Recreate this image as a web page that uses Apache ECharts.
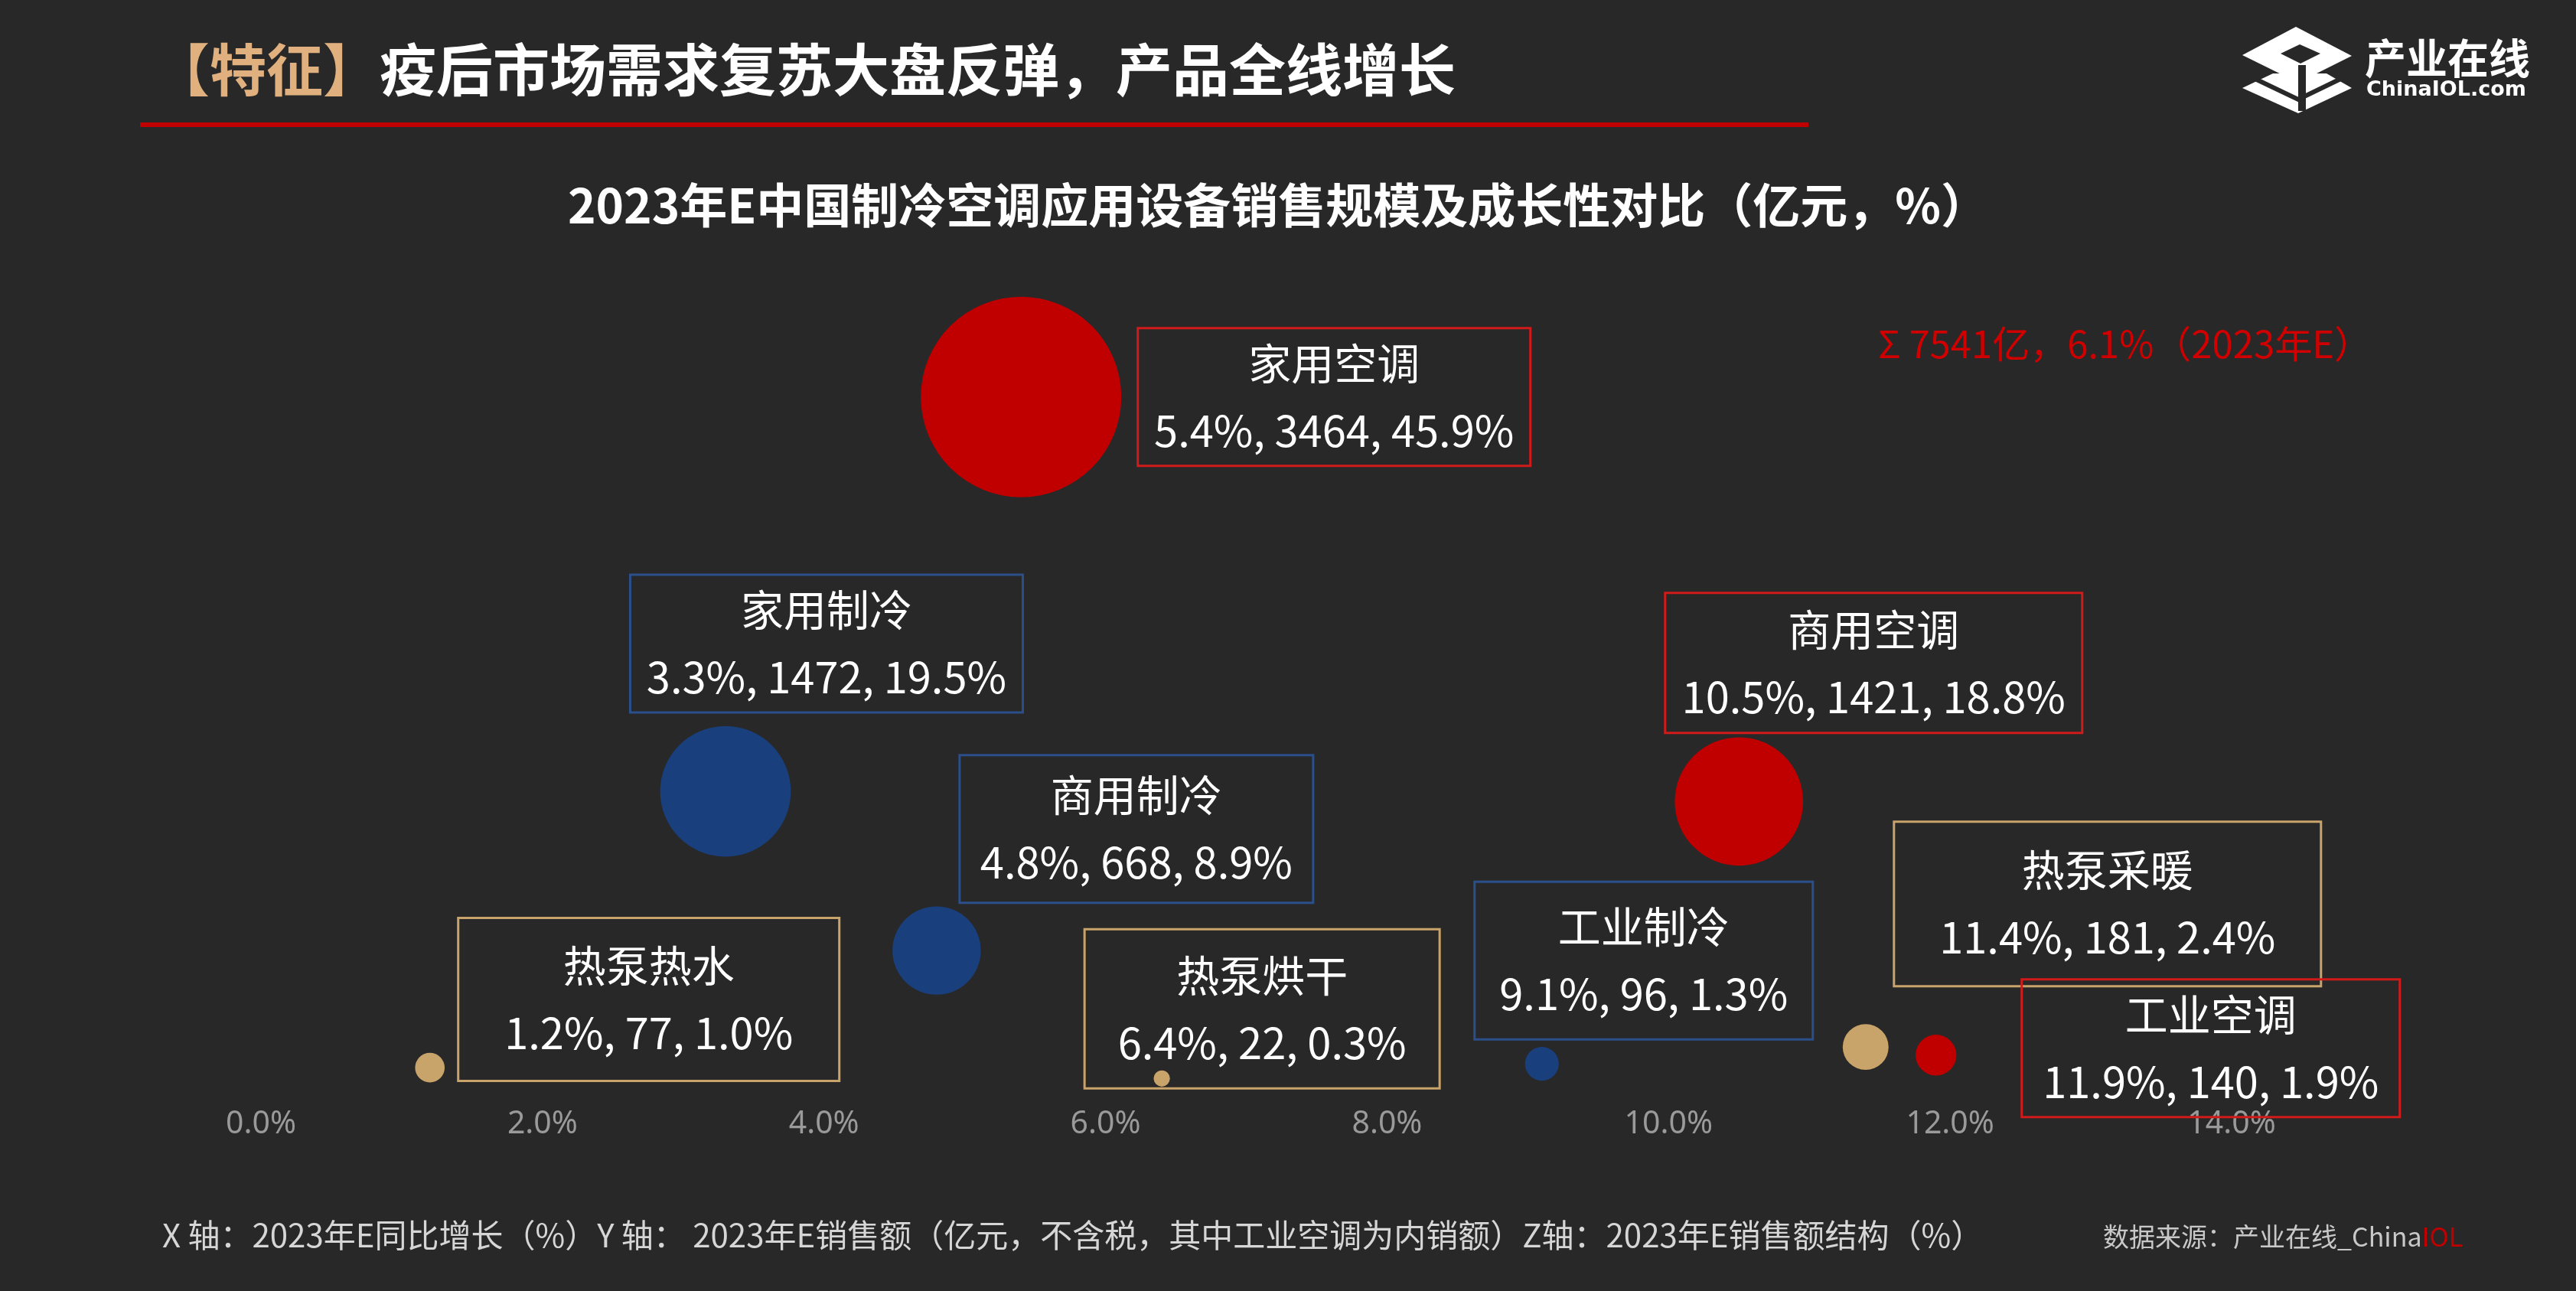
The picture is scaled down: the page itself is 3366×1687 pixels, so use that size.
<!DOCTYPE html>
<html>
<head>
<meta charset="utf-8">
<script src="https://cdn.jsdelivr.net/npm/echarts@6/dist/echarts.min.js"></script>
<style>
  html, body { margin: 0; padding: 0; background: #282828; }
  #chart { width: 3366px; height: 1687px; }
</style>
</head>
<body>
<div id="chart"></div>
<script>
// donnees
const names = ["家用空调", "家用制冷", "商用制冷", "热泵热水", "热泵烘干", "工业制冷", "商用空调", "热泵采暖", "工业空调"];
const growth = [5.4, 3.3, 4.8, 1.2, 6.4, 9.1, 10.5, 11.4, 11.9];
const sales = [3464, 1472, 668, 77, 22, 96, 1421, 181, 140];
const share = [45.9, 19.5, 8.9, 1.0, 0.3, 1.3, 18.8, 2.4, 1.9];
const colors = ["#c00000", "#1a3f7d", "#1a3f7d", "#c9a46a", "#c9a46a", "#1a3f7d", "#c00000", "#c9a46a", "#c00000"];
const boxColors = ["#d11a1a", "#2a4f8a", "#2a4f8a", "#c9a46a", "#c9a46a", "#2a4f8a", "#d11a1a", "#c9a46a", "#d11a1a"];
// position des cadres par rapport a la bulle
const boxOffset = [[409, 0], [132, -193], [261, -159], [286, -89], [131, -91], [133, -135], [176, -181], [316, -187], [359, -9]];
const boxSize = [[513, 180], [513, 180], [462, 193], [498, 213], [464, 208], [442, 206], [545, 183], [558, 215], [494, 180]];

var chart = echarts.init(document.getElementById("chart"));

const data = names.map((n, i) => ({
  name: n,
  value: [growth[i], sales[i], share[i]],
  symbolSize: 262 * Math.sqrt(share[i] / 45.9),
  itemStyle: { color: colors[i], opacity: 1 },
  label: {
    show: true,
    position: "inside",
    offset: boxOffset[i],
    formatter: n + "\n" + growth[i].toFixed(1) + "%, " + sales[i] + ", " + share[i].toFixed(1) + "%",
    color: "#ffffff",
    fontSize: 56,
    fontFamily: "Noto Sans CJK SC",
    lineHeight: 88,
    align: "center",
    width: boxSize[i][0] - 6,
    padding: [(boxSize[i][1] - 176) / 2, 3],
    borderColor: boxColors[i],
    borderWidth: 3,
  },
}));

var option = {
  backgroundColor: "#282828",
  animation: false,
  grid: { left: 341, right: 450, top: 380, bottom: 1687 - 1415 },
  xAxis: {
    type: "value",
    min: 0,
    max: 14,
    interval: 2,
    axisLine: { show: false },
    axisTick: { show: false },
    splitLine: { show: false },
    axisLabel: {
      color: "#9a9a9a",
      fontSize: 41,
      margin: 34,
      fontFamily: "Noto Sans",
      formatter: (v) => v.toFixed(1) + "%",
    },
  },
  yAxis: {
    type: "value",
    min: 0,
    max: 4000,
    show: false,
  },
  series: [
    {
      type: "scatter",
      data: data,
      z: 3,
    },
  ],
  graphic: [
    {
      type: "text",
      left: 200,
      top: 54,
      style: {
        text: "{g|【特征】}{w|疫后市场需求复苏大盘反弹，产品全线增长}",
        rich: {
          g: { fill: "#e0b07e", fontSize: 74, fontWeight: "bold", fontFamily: "Noto Sans CJK SC" },
          w: { fill: "#ffffff", fontSize: 74, fontWeight: "bold", fontFamily: "Noto Sans CJK SC" },
        },
      },
    },
    { type: "rect", shape: { x: 183, y: 160, width: 2180, height: 6 }, style: { fill: "#c00000" } },
    {
      type: "text",
      x: 1670,
      y: 268,
      style: {
        text: "2023年E中国制冷空调应用设备销售规模及成长性对比（亿元，%）",
        fill: "#ffffff",
        fontSize: 62,
        fontWeight: "bold",
        fontFamily: "Noto Sans CJK SC",
        align: "center",
        verticalAlign: "middle",
      },
    },
    {
      type: "text",
      x: 2454,
      y: 449,
      style: {
        text: "Σ 7541亿，6.1%（2023年E）",
        fill: "#d00000",
        fontSize: 49,
        fontFamily: "Noto Sans CJK SC",
        verticalAlign: "middle",
      },
    },
    {
      type: "text",
      x: 212,
      y: 1614,
      style: {
        text: "X 轴：2023年E同比增长（%）Y 轴： 2023年E销售额（亿元，不含税，其中工业空调为内销额）Z轴：2023年E销售额结构（%）",
        fill: "#d6d6d6",
        fontSize: 42,
        fontFamily: "Noto Sans CJK SC",
        verticalAlign: "middle",
      },
    },
    {
      type: "text",
      x: 2748,
      y: 1616,
      style: {
        text: "{a|数据来源：产业在线_China}{b|IOL}",
        verticalAlign: "middle",
        rich: {
          a: { fill: "#c8c8c8", fontSize: 34, fontFamily: "Noto Sans CJK SC" },
          b: { fill: "#c00000", fontSize: 34, fontFamily: "Noto Sans CJK SC" },
        },
      },
    },
    // logo
    { type: "polygon", shape: { points: [[2930, 72], [3000, 35], [3073, 73], [3003, 108]] }, style: { fill: "#ffffff" } },
    { type: "polygon", shape: { points: [[2980, 70], [3005, 58], [3032, 70], [3006, 83]] }, style: { fill: "#282828" } },
    { type: "polygon", shape: { points: [[2930, 115], [2970, 96], [3040, 96], [3073, 115], [3003, 148]] }, style: { fill: "#ffffff" } },
    { type: "polyline", shape: { points: [[2932, 96], [3003, 130], [3073, 96]] }, style: { stroke: "#282828", lineWidth: 6 } },
    { type: "rect", shape: { x: 3003, y: 85, width: 10, height: 60 }, style: { fill: "#282828" } },
    {
      type: "text",
      x: 3090,
      y: 76,
      style: { text: "产业在线", fill: "#ffffff", fontSize: 54, fontWeight: "bold", fontFamily: "Noto Sans CJK SC", verticalAlign: "middle" },
    },
    {
      type: "text",
      x: 3092,
      y: 118,
      style: { text: "ChinaIOL.com", fill: "#ffffff", fontSize: 27, fontWeight: "bold", fontFamily: "DejaVu Sans", verticalAlign: "middle" },
    },
  ],
};

chart.setOption(option);
</script>
</body>
</html>
